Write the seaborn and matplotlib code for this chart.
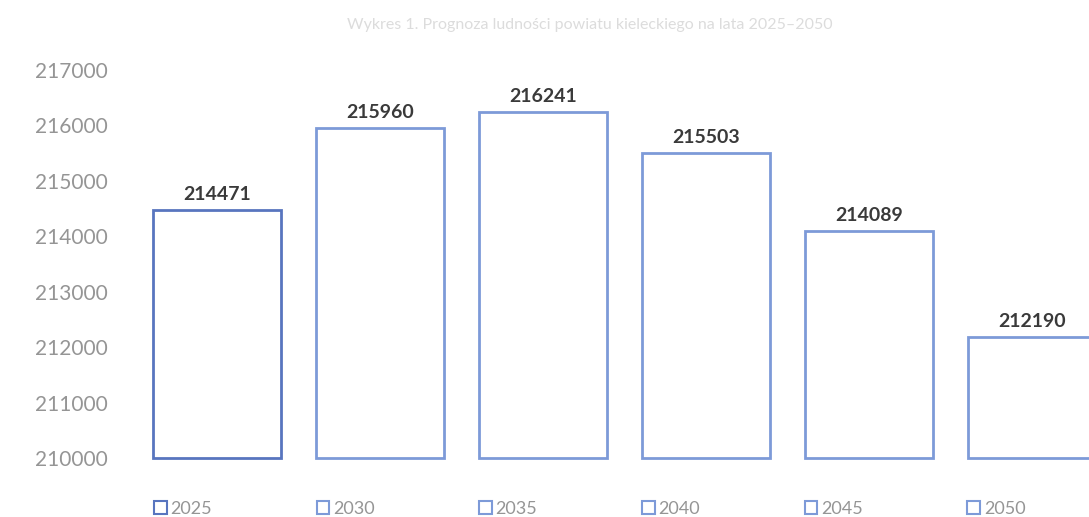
import matplotlib
matplotlib.use("Agg")
import matplotlib.pyplot as plt
import seaborn as sns
import pandas as pd
from matplotlib.patches import Patch

# Data
years = ["2025", "2030", "2035", "2040", "2045", "2050"]
population = [214471, 215960, 216241, 215503, 214089, 212190]
edge_colors = ["#5875bf", "#7d9ad8", "#7d9ad8", "#7d9ad8", "#7d9ad8", "#7d9ad8"]
y_ticks = [210000, 211000, 212000, 213000, 214000, 215000, 216000, 217000]
base = 210000
title = "Wykres 1. Prognoza ludności powiatu kieleckiego na lata 2025–2050"

sns.set_style("white")
plt.rcParams['font.family'] = ['Lato', 'DejaVu Sans']

df = pd.DataFrame({'year': years, 'population': population})

fig = plt.figure(figsize=(10.89, 5.17), dpi=100)
# axes runs past the right edge, like the cropped original
ax = fig.add_axes([135.5 / 1089, 59 / 517, 978 / 1089, 388 / 517])

sns.barplot(data=df, x='year', y='population', hue='year',
            palette=edge_colors, fill=False, linewidth=2,
            width=0.79, legend=False, ax=ax)

# bars start at the axis floor, not at zero
for patch in ax.patches:
    top = patch.get_y() + patch.get_height()
    patch.set_y(base)
    patch.set_height(top - base)
    patch.set_facecolor("white")
    patch.set_clip_on(False)

for cont in ax.containers:
    ax.bar_label(cont, fmt='%d', padding=5, fontsize=14,
                 fontweight='bold', color='#3a3a3a')

ax.set_ylim(base, 217000)
ax.set_yticks(y_ticks)
ax.set_yticklabels([str(t) for t in y_ticks], color='#959595', fontsize=15)
ax.tick_params(axis='y', length=0, pad=20)
ax.set_xticks([])
ax.set_xlabel('')
ax.set_ylabel('')
sns.despine(ax=ax, left=True, bottom=True)

handles = [Patch(facecolor='white', edgecolor=c, linewidth=1.5) for c in edge_colors]
fig.legend(handles, years, loc='center left', bbox_to_anchor=(138 / 1089, 8 / 517),
           ncol=6, frameon=False, fontsize=13, handlelength=0.7, handleheight=0.7,
           handletextpad=0.2, columnspacing=5.8, labelcolor='#959595')

fig.text(590 / 1089, 1 - 25 / 517, title, ha='center', va='center',
         fontsize=11.5, color='#dcdcdc')

fig.savefig('out.png', dpi=100)
